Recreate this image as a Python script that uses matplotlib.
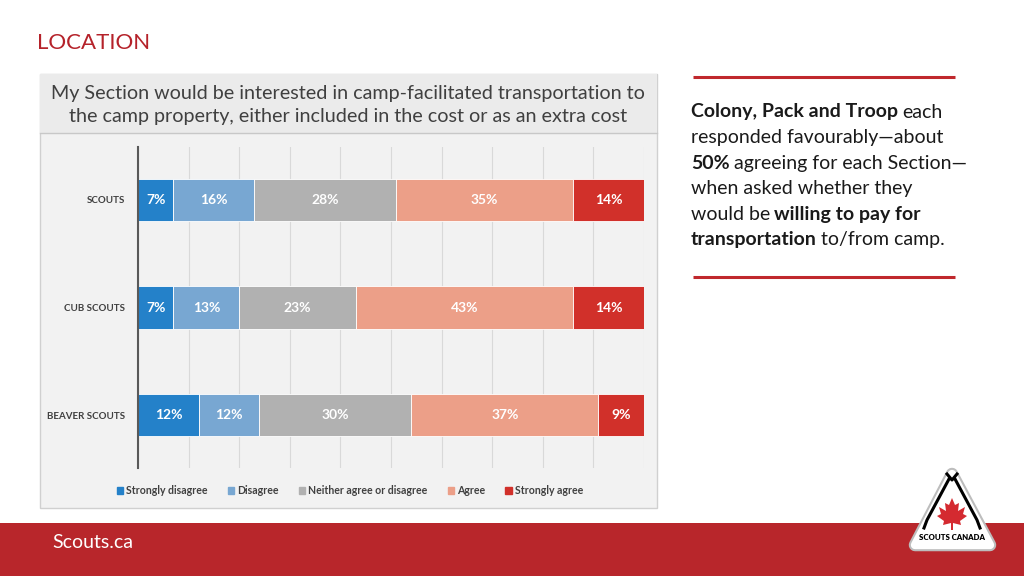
import matplotlib
matplotlib.use("Agg")
import matplotlib.pyplot as plt
import matplotlib.patches as mpatches
import numpy as np

plt.rcParams['font.family'] = ['Lato', 'DejaVu Sans']

# chart data
sections = ['SCOUTS', 'CUB SCOUTS', 'BEAVER SCOUTS']
responses = ['Strongly disagree', 'Disagree', 'Neither agree or disagree', 'Agree', 'Strongly agree']
strongly_disagree = [7, 7, 12]
disagree = [16, 13, 12]
neither = [28, 23, 30]
agree = [35, 43, 37]
strongly_agree = [14, 14, 9]
colors = ['#2481C9', '#78A7D2', '#B1B1B1', '#EC9F88', '#D1302A']

chart_title = ("My Section would be interested in camp-facilitated transportation to\n"
               "the camp property, either included in the cost or as an extra cost")

W, H = 1024, 576
RED = '#B8262B'

fig = plt.figure(figsize=(W / 100, H / 100), dpi=100)
fig.patch.set_facecolor('white')

# background layer in pixel coordinates
bg = fig.add_axes([0, 0, 1, 1], zorder=0)
bg.set_xlim(0, W)
bg.set_ylim(H, 0)
bg.axis('off')

# chart panel
bg.add_patch(mpatches.Rectangle((40, 74), 617, 434, facecolor='#F2F2F2', edgecolor='#D0D0D0', lw=1))
bg.add_patch(mpatches.Rectangle((40, 74), 617, 59, facecolor='#EBEBEB', edgecolor='none'))
bg.plot([40, 657], [133, 133], color='#C8C8C8', lw=1)
bg.text(348, 105, chart_title, ha='center', va='center', fontsize=14.2, color='#404040',
        linespacing=1.45)

# page title
bg.text(37, 43, 'LOCATION', ha='left', va='center', fontsize=16, color='#B5222A')

# footer
bg.add_patch(mpatches.Rectangle((0, 523), W, 53, facecolor=RED, edgecolor='none'))
bg.text(52, 543, 'Scouts.ca', ha='left', va='center', fontsize=14, color='white')

# right hand note
bg.plot([693, 955], [77, 77], color='#C0282D', lw=2.2, solid_capstyle='butt')
bg.plot([693, 955], [277, 277], color='#C0282D', lw=2.2, solid_capstyle='butt')

note = [
    [('Colony, Pack and Troop', 'bold'), ('each', 'normal')],
    [('responded favourably—about', 'normal')],
    [('50%', 'bold'), ('agreeing for each Section—', 'normal')],
    [('when asked whether they', 'normal')],
    [('would be', 'normal'), ('willing to pay for', 'bold')],
    [('transportation', 'bold'), ('to/from camp.', 'normal')],
]
fig.canvas.draw()
renderer = fig.canvas.get_renderer()
NOTE_FS = 14


def width_px(s, weight):
    t = bg.text(0, 0, s, fontsize=NOTE_FS, fontweight=weight)
    w = t.get_window_extent(renderer).width
    t.remove()
    return w


space = 0.8 * (width_px('a a', 'normal') - width_px('aa', 'normal'))
y = 112
for line in note:
    x = 691
    for run, weight in line:
        bg.text(x, y, run, ha='left', va='center', fontsize=NOTE_FS, fontweight=weight, color='#1A1A1A')
        x += width_px(run, weight) + space
    y += 25.6

# logo
tri = np.array([[952, 474], [915, 545], [990, 545]])
bg.add_patch(mpatches.Polygon(tri, closed=True, facecolor='white', edgecolor='#BDBDBD', lw=9,
                              joinstyle='round', zorder=3))
bg.add_patch(mpatches.Polygon(tri, closed=True, facecolor='white', edgecolor='white', lw=6,
                              joinstyle='round', zorder=3))
bg.plot([949, 927, 924], [479, 520, 528], color='black', lw=2.2, zorder=4)
bg.plot([955, 977, 980], [479, 520, 528], color='black', lw=2.2, zorder=4)
bg.plot([947, 952, 957], [474, 480, 474], color='black', lw=2.2, zorder=4)
leaf = np.array([[952, 498], [955, 505], [959, 503], [958, 511], [965, 507], [963, 514],
                 [967, 516], [960, 521], [961, 525], [953, 523], [953, 530], [951, 530],
                 [951, 523], [943, 525], [944, 521], [937, 516], [941, 514], [939, 507],
                 [946, 511], [945, 503], [949, 505]])
bg.add_patch(mpatches.Polygon(leaf, closed=True, facecolor='#D42A30', edgecolor='none', zorder=4))
bg.text(952, 538, 'SCOUTS CANADA', ha='center', va='center', fontsize=5.6, fontweight='heavy',
        color='black', zorder=5)

# the stacked bar chart
ax = fig.add_axes([138 / W, 1 - 468 / H, 506 / W, 321 / H], zorder=1)
ax.set_facecolor('none')
series = [strongly_disagree, disagree, neither, agree, strongly_agree]
ypos = np.arange(len(sections))
left = np.zeros(len(sections))
for name, vals, col in zip(responses, series, colors):
    vals = np.array(vals, dtype=float)
    bars = ax.barh(ypos, vals, left=left, height=0.39, color=col, edgecolor='white', lw=0.6,
                   label=name, zorder=2)
    for b, v in zip(bars, vals):
        ax.text(b.get_x() + b.get_width() / 2, b.get_y() + b.get_height() / 2, f'{v:.0f}%',
                ha='center', va='center', color='white', fontsize=10, fontweight='bold', zorder=3)
    left += vals

ax.set_xlim(0, 100)
ax.set_ylim(2.49, -0.49)
ax.set_xticks(np.arange(0, 101, 10))
ax.set_xticklabels([])
ax.tick_params(axis='x', length=0)
ax.tick_params(axis='y', length=0, pad=9, labelsize=7, labelcolor='#404040')
ax.set_yticks(ypos)
ax.set_yticklabels(sections, fontweight='bold')
ax.grid(axis='x', color='#D9D9D9', lw=0.8, zorder=0)
for s in ['top', 'right', 'bottom']:
    ax.spines[s].set_visible(False)
ax.spines['left'].set_color('#595959')
ax.spines['left'].set_linewidth(1.5)

handles = [mpatches.Patch(color=c, label=r) for r, c in zip(responses, colors)]
leg = fig.legend(handles=handles, loc='center', bbox_to_anchor=(350 / W, 1 - 491 / H), ncol=5,
                 frameon=False, fontsize=7.6, handlelength=0.6, handleheight=0.6,
                 handletextpad=0.3, columnspacing=1.9)
for t in leg.get_texts():
    t.set_color('#404040')
    t.set_fontweight('bold')

fig.savefig('out.png', dpi=100, facecolor='white')
